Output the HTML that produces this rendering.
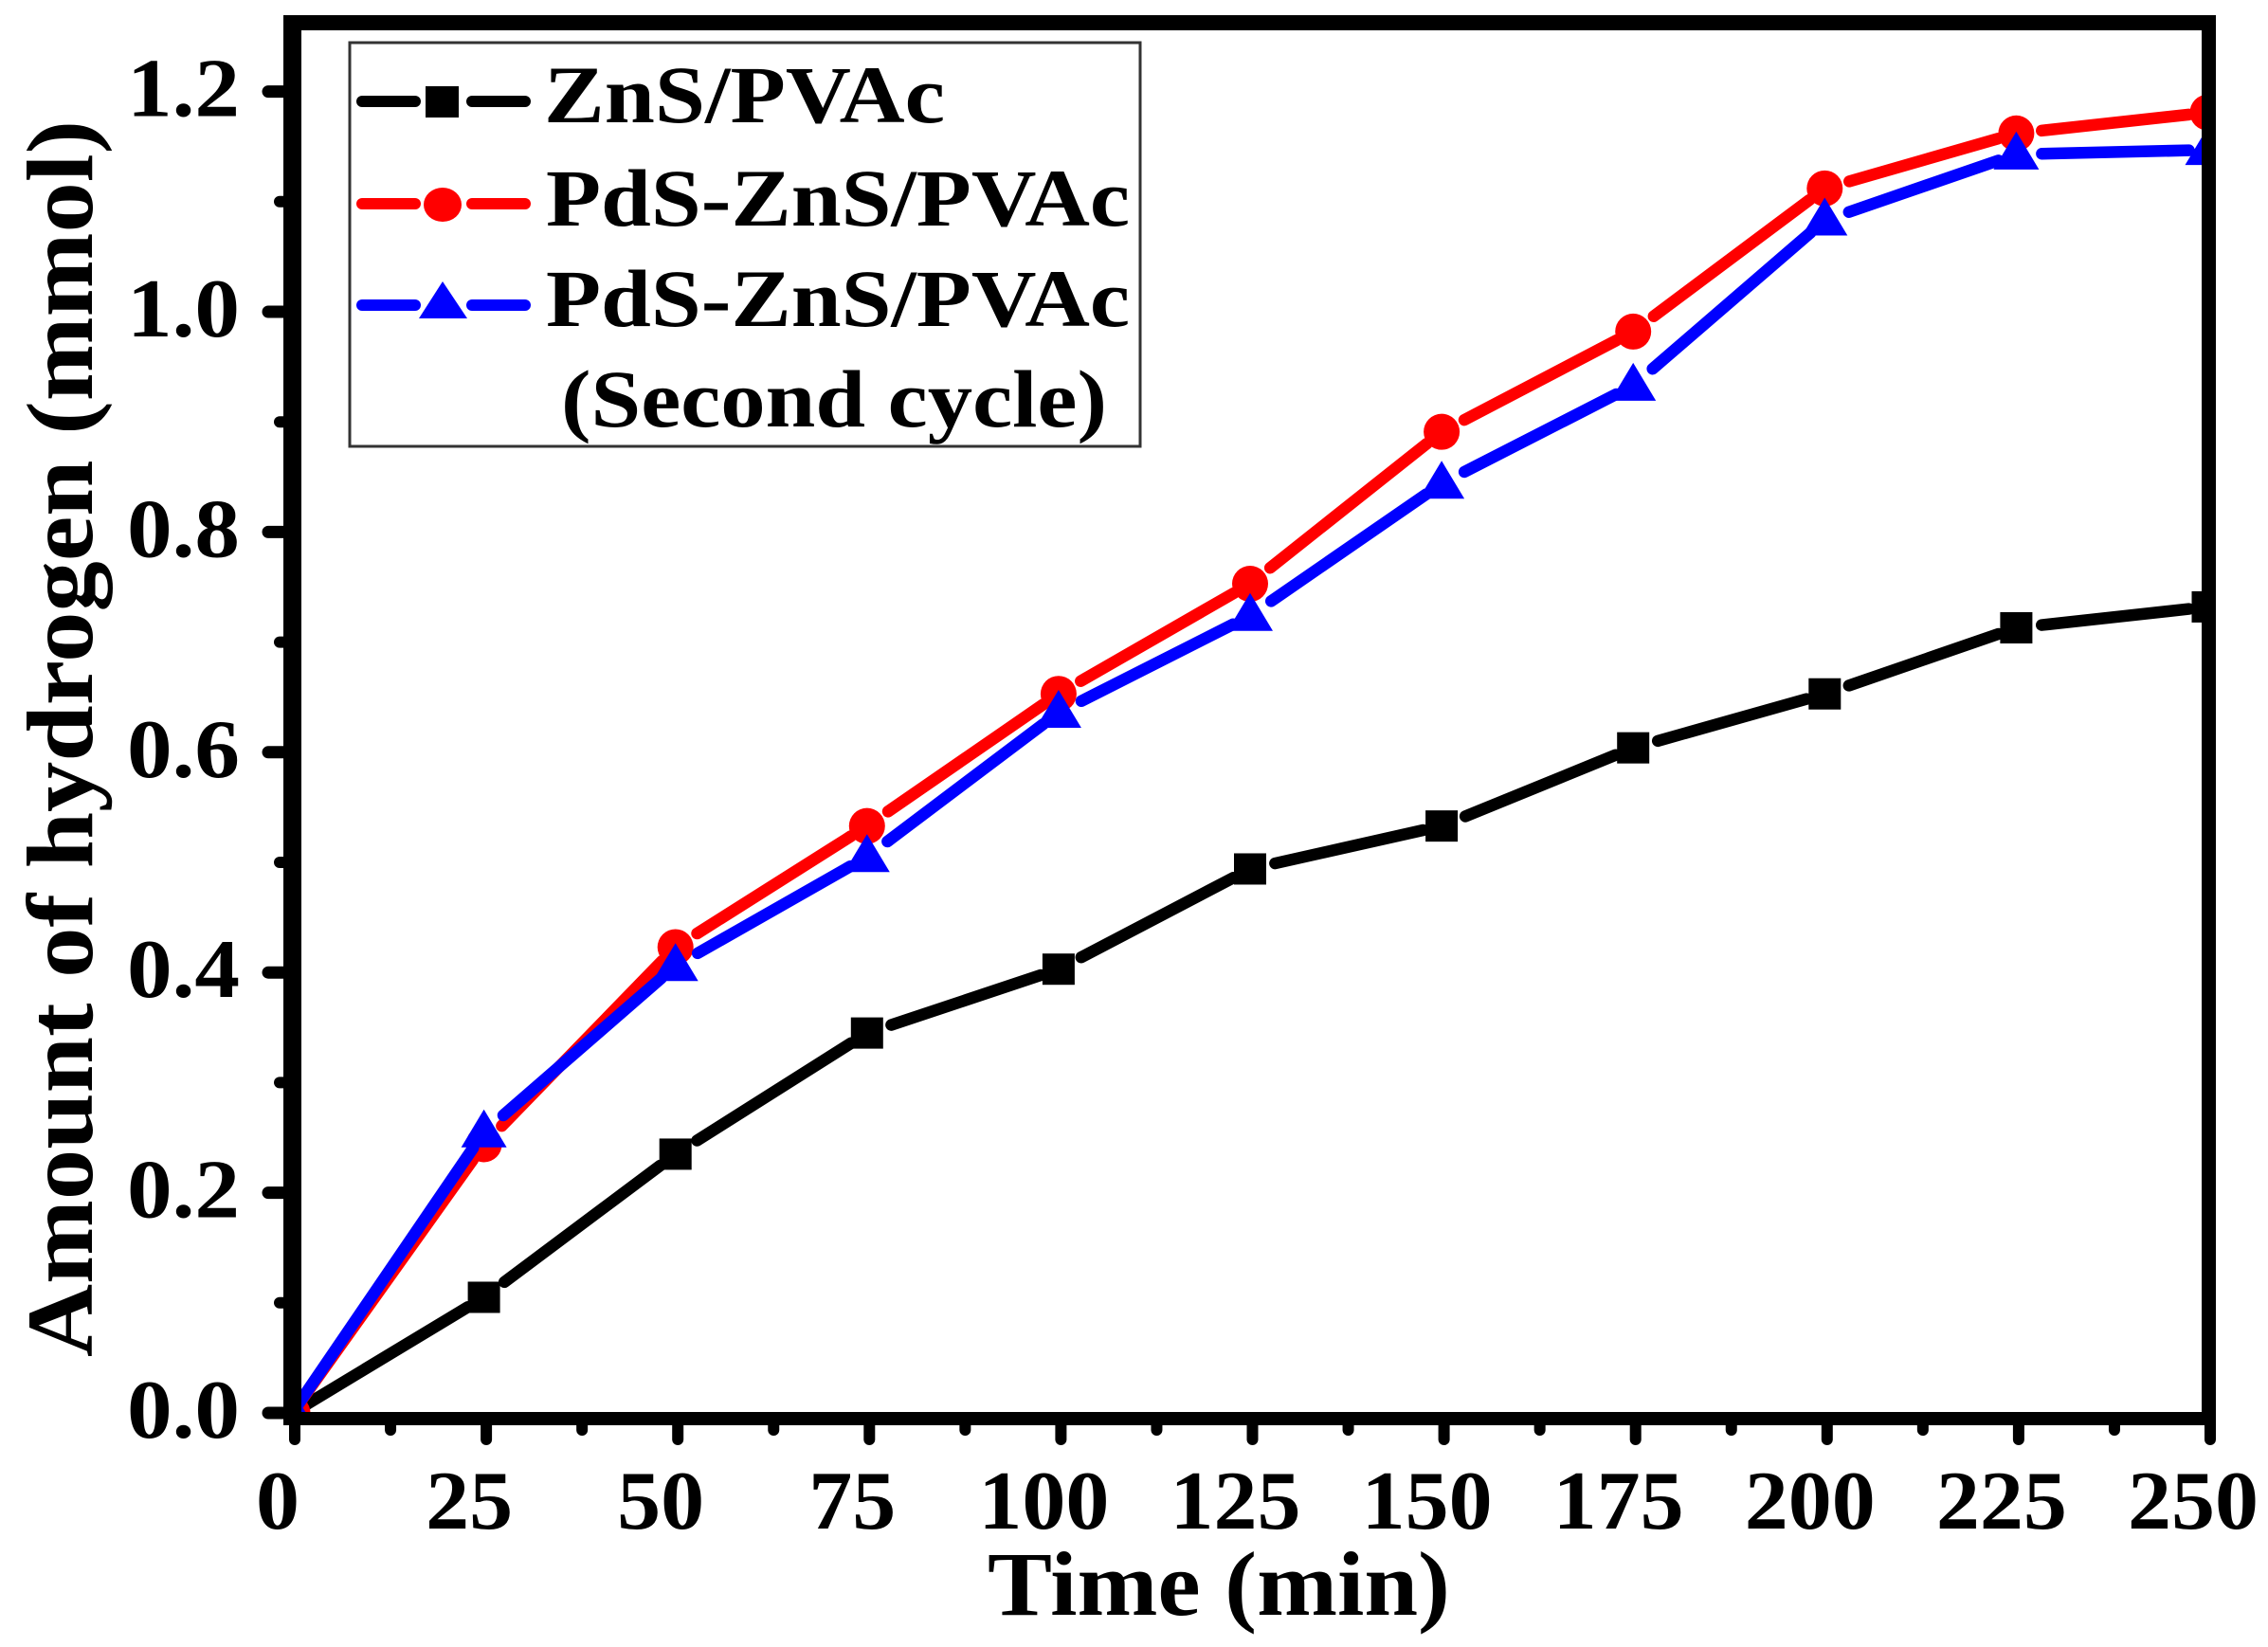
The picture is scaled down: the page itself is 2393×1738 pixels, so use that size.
<!DOCTYPE html>
<html lang="en">
<head>
<meta charset="utf-8">
<title>Amount of hydrogen vs time</title>
<style>
html,body{margin:0;padding:0;background:#fff;}
svg{display:block;}
text{font-family:"Liberation Serif",serif;font-weight:bold;fill:#000;}
</style>
</head>
<body>
<svg id="chart" xmlns="http://www.w3.org/2000/svg" width="2393" height="1738" viewBox="0 0 2393 1738">
  <rect x="0" y="0" width="2393" height="1738" fill="#fff"/>
  <defs>
    <clipPath id="plot-clip"><rect x="309" y="24" width="2022" height="1473"/></clipPath>
  </defs>
  <g id="series-layer" clip-path="url(#plot-clip)"></g>
  <g id="axis-layer" stroke-linecap="round"></g>
  <g id="frame" fill="#000">
    <rect x="299" y="16" width="19" height="1488"/>
    <rect x="2323" y="16" width="15" height="1488"/>
    <rect x="299" y="16" width="2039" height="16"/>
    <rect x="299" y="1490" width="2039" height="14"/>
  </g>
  <text transform="translate(97 1432) rotate(-90)" font-size="100" textLength="1305" lengthAdjust="spacingAndGlyphs">Amount of hydrogen (mmol)</text>
  <text x="1042" y="1704" font-size="96" textLength="488" lengthAdjust="spacingAndGlyphs">Time (min)</text>

  <g>
    <rect x="369" y="45" width="834" height="426" fill="#fff" stroke="#333" stroke-width="3"/>
    <g>
      <line x1="382" y1="107" x2="438" y2="107" stroke="#000" stroke-width="12" stroke-linecap="round"/>
      <line x1="498" y1="107" x2="554" y2="107" stroke="#000" stroke-width="12" stroke-linecap="round"/>
      <rect x="449" y="91" width="35" height="33" fill="#000"/>
      <text x="574" y="129" font-size="86" textLength="423" lengthAdjust="spacingAndGlyphs">ZnS/PVAc</text>
    </g>
    <g>
      <line x1="382" y1="215" x2="438" y2="215" stroke="#f00" stroke-width="12" stroke-linecap="round"/>
      <line x1="498" y1="215" x2="554" y2="215" stroke="#f00" stroke-width="12" stroke-linecap="round"/>
      <ellipse cx="467" cy="216" rx="20" ry="18" fill="#f00"/>
      <text x="576" y="238" font-size="86" textLength="616" lengthAdjust="spacingAndGlyphs">PdS-ZnS/PVAc</text>
    </g>
    <g>
      <line x1="382" y1="322" x2="438" y2="322" stroke="#00f" stroke-width="12" stroke-linecap="round"/>
      <line x1="498" y1="322" x2="554" y2="322" stroke="#00f" stroke-width="12" stroke-linecap="round"/>
      <polygon points="467,297 493,336 442,336" fill="#00f"/>
      <text x="576" y="344" font-size="86" textLength="616" lengthAdjust="spacingAndGlyphs">PdS-ZnS/PVAc</text>
      <text x="592" y="450" font-size="86" textLength="576" lengthAdjust="spacingAndGlyphs">(Second cycle)</text>
    </g>
  </g>
</svg>
<script>
const times = [0, 25, 50, 75, 100, 125, 150, 175, 200, 225, 250];
const znsValues = [0, 0.105, 0.235, 0.345, 0.403, 0.494, 0.533, 0.604, 0.653, 0.713, 0.732];
const pdsValues = [0, 0.244, 0.423, 0.533, 0.653, 0.753, 0.891, 0.982, 1.112, 1.162, 1.181];
const secondCycleValues = [0, 0.255, 0.406, 0.505, 0.636, 0.724, 0.844, 0.933, 1.083, 1.143, 1.147];
const xTickLabels = ["0", "25", "50", "75", "100", "125", "150", "175", "200", "225", "250"];
const xMinorTicks = [12.5, 37.5, 62.5, 87.5, 112.5, 137.5, 162.5, 187.5, 212.5, 237.5];
const yTickLabels = ["0.0", "0.2", "0.4", "0.6", "0.8", "1.0", "1.2"];
const yMinorTicks = [0.1, 0.3, 0.5, 0.7, 0.9, 1.1];

const NS = "http://www.w3.org/2000/svg";
function xScale(v) { return 311 + v * 8.084; }
function markX(v) { return xScale(v) - 2.5; }
function yScale(v) { return 1491 - v * 1162; }

function make(tag, attrs, parent) {
  const el = document.createElementNS(NS, tag);
  for (const k in attrs) el.setAttribute(k, attrs[k]);
  parent.appendChild(el);
  return el;
}

const axisLayer = document.getElementById("axis-layer");
const seriesLayer = document.getElementById("series-layer");

xTickLabels.forEach(function (label) {
  const v = parseFloat(label);
  const tick = make("line", {x1: xScale(v), y1: 1500, x2: xScale(v), y2: 1519, stroke: "#000", "stroke-width": 12}, axisLayer);
  
  
  const width = label.length * 46;
  const text = make("text", {x: xScale(v) - 18, y: 1613, "font-size": 88, "text-anchor": "middle", textLength: width, lengthAdjust: "spacingAndGlyphs"}, axisLayer);
  text.textContent = label;
  
  
});
xMinorTicks.forEach(function (v) {
  const tick = make("line", {x1: xScale(v), y1: 1500, x2: xScale(v), y2: 1509, stroke: "#000", "stroke-width": 12}, axisLayer);
  
  
});
yTickLabels.forEach(function (label) {
  const v = parseFloat(label);
  const tick = make("line", {x1: 283, y1: yScale(v), x2: 304, y2: yScale(v), stroke: "#000", "stroke-width": 13}, axisLayer);
  
  
  const text = make("text", {x: 253, y: yScale(v) + 26, "font-size": 88, "text-anchor": "end", textLength: 119, lengthAdjust: "spacingAndGlyphs"}, axisLayer);
  text.textContent = label;
  
  
});
yMinorTicks.forEach(function (v) {
  const tick = make("line", {x1: 295, y1: yScale(v), x2: 304, y2: yScale(v), stroke: "#000", "stroke-width": 12}, axisLayer);
  
  
});

function drawLine(values, color, seriesName) {
  for (let i = 0; i < values.length - 1; i++) {
    const x1 = markX(times[i]), y1 = yScale(values[i]);
    const x2 = markX(times[i + 1]), y2 = yScale(values[i + 1]);
    const len = Math.hypot(x2 - x1, y2 - y1);
    const ux = (x2 - x1) / len, uy = (y2 - y1) / len;
    const startTrim = i === 0 ? 8 : 27;
    const endTrim = 20;
    const seg = make("line", {
      x1: x1 + ux * startTrim, y1: y1 + uy * startTrim,
      x2: x2 - ux * endTrim, y2: y2 - uy * endTrim,
      stroke: color, "stroke-width": 12.5, "stroke-linecap": "round"
    }, seriesLayer);
    
    
  }
}

drawLine(znsValues, "#000", "zns-pvac");
znsValues.forEach(function (v, i) {
  const m = make("rect", {x: markX(times[i]) - 17, y: yScale(v) - 16.5, width: 34, height: 33, fill: "#000"}, seriesLayer);
  
  
});

drawLine(pdsValues, "#f00", "pds-zns-pvac");
pdsValues.forEach(function (v, i) {
  const m = make("circle", {cx: markX(times[i]), cy: yScale(v), r: 19, fill: "#f00"}, seriesLayer);
  
  
});

drawLine(secondCycleValues, "#00f", "second-cycle");
secondCycleValues.forEach(function (v, i) {
  const cx = markX(times[i]), cy = yScale(v);
  const pts = cx + "," + (cy - 24) + " " + (cx + 24) + "," + (cy + 16) + " " + (cx - 24) + "," + (cy + 16);
  const m = make("polygon", {points: pts, fill: "#00f"}, seriesLayer);
  
  
});
</script>
</body>
</html>
